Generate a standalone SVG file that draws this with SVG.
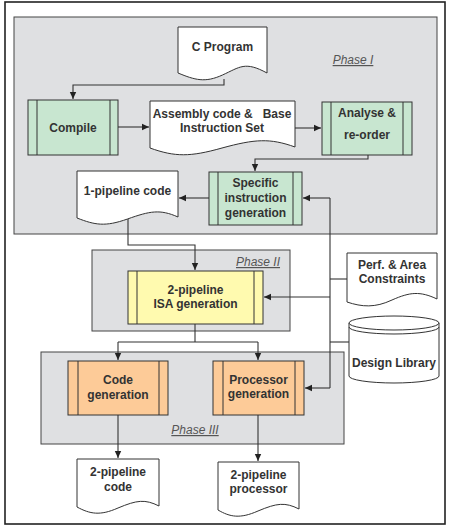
<svg xmlns="http://www.w3.org/2000/svg" width="450" height="529" viewBox="0 0 450 529">
<defs>
<marker id="arr" markerWidth="8" markerHeight="8" refX="7" refY="4" orient="auto" markerUnits="userSpaceOnUse">
<path d="M0,0.8 L7,4 L0,7.2 Z" fill="#222"/>
</marker>
<style>
.frame{fill:#fff;stroke:#222;stroke-width:1.6}
.phase{fill:#dfe0e2;stroke:#444;stroke-width:1}
.doc{fill:#fff;stroke:#333;stroke-width:1}
.green{fill:#c8e6d0;stroke:#333;stroke-width:1}
.yellow{fill:#fffaaf;stroke:#333;stroke-width:1}
.orange{fill:#fdcb98;stroke:#333;stroke-width:1}
.sub{fill:none;stroke:#333;stroke-width:1}
.t{font-family:"Liberation Sans",Arial,sans-serif;font-size:12px;font-weight:bold;fill:#333;text-anchor:middle}
.ph{font-family:"Liberation Sans",Arial,sans-serif;font-size:12px;font-style:italic;fill:#555;text-anchor:middle;text-decoration:underline}
.c{fill:none;stroke:#333;stroke-width:1.1}
</style>
</defs>
<rect class="frame" x="5" y="2" width="440" height="522"/>
<g id="phase1"><rect class="phase" x="14" y="17" width="423" height="217"/><text class="ph" x="353" y="64">Phase I</text></g>
<g id="phase2"><rect class="phase" x="92" y="250" width="198" height="81"/><text class="ph" x="258" y="266">Phase II</text></g>
<g id="phase3"><rect class="phase" x="41" y="352" width="303" height="92"/><text class="ph" x="195" y="434">Phase III</text></g>

<g id="connectors">
<path class="c" d="M224,79 V85 H73 V99" marker-end="url(#arr)"/>
<path class="c" d="M118,127 H149" marker-end="url(#arr)"/>
<path class="c" d="M295,128 H321" marker-end="url(#arr)"/>
<path class="c" d="M368,155 V159 H255 V171" marker-end="url(#arr)"/>
<path class="c" d="M209,198 H179" marker-end="url(#arr)"/>
<path class="c" d="M128,218 V245 H195 V270" marker-end="url(#arr)"/>
<path class="c" d="M330,198 H303" marker-end="url(#arr)"/>
<path class="c" d="M330,198 V388"/>
<path class="c" d="M330,297 H264" marker-end="url(#arr)"/>
<path class="c" d="M330,388 H305" marker-end="url(#arr)"/>
<path class="c" d="M330,279 H347"/>
<path class="c" d="M330,342 H349"/>
<path class="c" d="M195,324 V342"/>
<path class="c" d="M118,342 H258"/>
<path class="c" d="M118,342 V360" marker-end="url(#arr)"/>
<path class="c" d="M258,342 V360" marker-end="url(#arr)"/>
<path class="c" d="M118,415 V458" marker-end="url(#arr)"/>
<path class="c" d="M258,415 V461" marker-end="url(#arr)"/>
</g>

<g id="cprogram"><path class="doc" d="M178,27 H267 V73 C245,61 240,67 222.5,75 C205,83 195,80 178,73 Z"/>
<text class="t" x="222.5" y="51">C Program</text></g>

<g id="compile"><rect class="green" x="28" y="100" width="90" height="55"/><path class="sub" d="M37,100 V155 M110,100 V155"/><text class="t" x="73" y="132">Compile</text></g>

<g id="assembly"><path class="doc" d="M150,101 H295 V147 C270,138 255,139 222,148 C190,157 175,157 150,148 Z"/>
<text class="t" x="222" y="118" xml:space="preserve" style="white-space:pre">Assembly code &amp;   Base</text><text class="t" x="222" y="132">Instruction Set</text></g>

<g id="analyse"><rect class="green" x="322" y="102" width="90" height="53"/><path class="sub" d="M331,102 V155 M403,102 V155"/><text class="t" x="367" y="117">Analyse &amp;</text><text class="t" x="367" y="139">re-order</text></g>

<g id="specific"><rect class="green" x="209" y="172" width="93" height="53"/><path class="sub" d="M218,172 V225 M293,172 V225"/><text class="t" x="255.5" y="187">Specific</text><text class="t" x="255.5" y="202">instruction</text><text class="t" x="255.5" y="217">generation</text></g>

<g id="onepipe"><path class="doc" d="M77,171 H178 V217 C160,209 150,211 127.5,219 C105,227 95,225 77,218 Z"/><text class="t" x="127.5" y="195">1-pipeline code</text></g>

<g id="isa"><rect class="yellow" x="128" y="271" width="135" height="53"/><path class="sub" d="M137,271 V324 M254,271 V324"/><text class="t" x="195.5" y="294">2-pipeline</text><text class="t" x="195.5" y="308">ISA generation</text></g>

<g id="perf"><path class="doc" d="M347,253 H437 V299 C420,291 410,292 392,300 C375,308 362,307 347,302 Z"/><text class="t" x="392" y="269">Perf. &amp; Area</text><text class="t" x="392" y="283">Constraints</text></g>

<g id="designlib"><path class="doc" d="M349,323 V376 A45,7 0 0 0 439,376 V323"/><ellipse class="doc" cx="394" cy="323" rx="45" ry="7"/><path class="sub" d="M349,327 A45,7 0 0 0 439,327"/><text class="t" x="394" y="367">Design Library</text></g>

<g id="codegen"><rect class="orange" x="68" y="361" width="100" height="54"/><path class="sub" d="M78,361 V415 M159,361 V415"/><text class="t" x="118" y="384">Code</text><text class="t" x="118" y="399">generation</text></g>

<g id="procgen"><rect class="orange" x="213" y="361" width="91" height="54"/><path class="sub" d="M223,361 V415 M295,361 V415"/><text class="t" x="258.5" y="384">Processor</text><text class="t" x="258.5" y="398">generation</text></g>

<g id="twocode"><path class="doc" d="M77,459 H159 V506 C145,499 137,500 118,508 C100,516 90,514 77,507 Z"/><text class="t" x="118" y="476">2-pipeline</text><text class="t" x="118" y="491">code</text></g>

<g id="twoproc"><path class="doc" d="M218,462 H299 V509 C285,502 277,503 258,511 C240,519 230,517 218,510 Z"/><text class="t" x="258.5" y="479">2-pipeline</text><text class="t" x="258.5" y="493">processor</text></g>
</svg>
